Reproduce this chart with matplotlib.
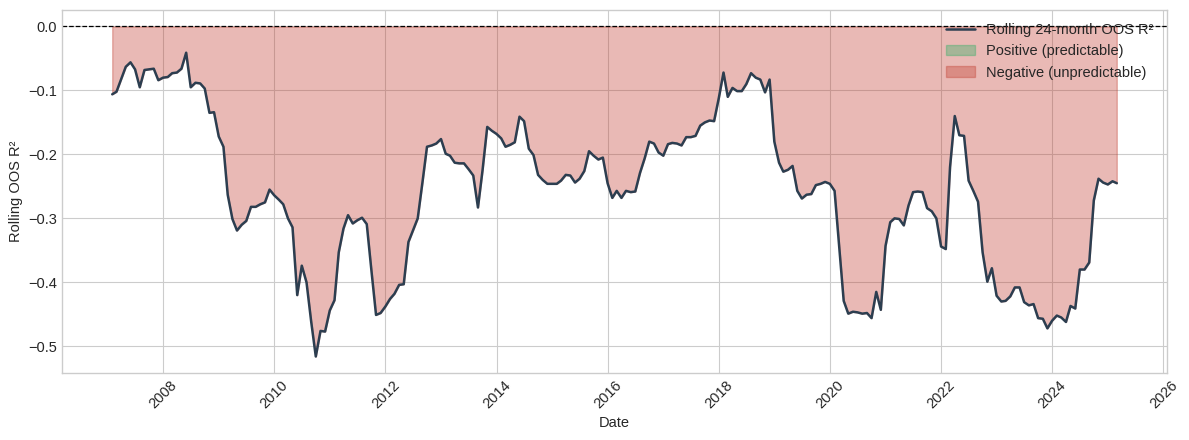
import matplotlib
matplotlib.use("Agg")
import matplotlib.pyplot as plt
import numpy as np
import pandas as pd

plt.style.use("seaborn-v0_8-whitegrid")
plt.rcParams["font.family"] = ["Liberation Sans", "DejaVu Sans"]

start_date = "2007-01-31"
rolling_r2 = [
    -0.106, -0.102, -0.082, -0.063, -0.056, -0.067, -0.095, -0.068, -0.067, -0.066,
    -0.084, -0.080, -0.079, -0.073, -0.072, -0.066, -0.041, -0.095, -0.088, -0.089,
    -0.097, -0.135, -0.134, -0.172, -0.188, -0.263, -0.301, -0.319, -0.310, -0.304,
    -0.282, -0.282, -0.278, -0.275, -0.255, -0.264, -0.271, -0.278, -0.300, -0.314,
    -0.420, -0.374, -0.400, -0.462, -0.516, -0.476, -0.477, -0.444, -0.428, -0.353,
    -0.316, -0.295, -0.308, -0.303, -0.299, -0.309, -0.380, -0.451, -0.448, -0.438,
    -0.426, -0.418, -0.404, -0.403, -0.337, -0.319, -0.300, -0.244, -0.188, -0.186,
    -0.183, -0.176, -0.199, -0.202, -0.213, -0.214, -0.214, -0.223, -0.233, -0.283,
    -0.225, -0.157, -0.163, -0.168, -0.175, -0.188, -0.185, -0.181, -0.141, -0.148,
    -0.191, -0.201, -0.232, -0.240, -0.246, -0.246, -0.246, -0.241, -0.232, -0.233,
    -0.244, -0.238, -0.226, -0.195, -0.202, -0.208, -0.205, -0.245, -0.268, -0.257,
    -0.268, -0.257, -0.259, -0.258, -0.229, -0.206, -0.180, -0.183, -0.197, -0.202,
    -0.184, -0.182, -0.183, -0.186, -0.173, -0.173, -0.171, -0.155, -0.150, -0.147,
    -0.148, -0.112, -0.072, -0.110, -0.096, -0.101, -0.101, -0.090, -0.073, -0.080,
    -0.083, -0.103, -0.083, -0.180, -0.213, -0.227, -0.224, -0.218, -0.257, -0.269,
    -0.263, -0.262, -0.248, -0.246, -0.243, -0.246, -0.257, -0.340, -0.429, -0.449,
    -0.446, -0.447, -0.449, -0.448, -0.456, -0.415, -0.443, -0.343, -0.306, -0.300,
    -0.301, -0.311, -0.280, -0.259, -0.258, -0.259, -0.284, -0.289, -0.300, -0.344,
    -0.348, -0.220, -0.140, -0.170, -0.171, -0.241, -0.257, -0.274, -0.353, -0.399,
    -0.378, -0.421, -0.430, -0.429, -0.422, -0.408, -0.408, -0.431, -0.436, -0.434,
    -0.456, -0.457, -0.472, -0.460, -0.452, -0.455, -0.462, -0.437, -0.441, -0.380,
    -0.380, -0.369, -0.272, -0.238, -0.244, -0.247, -0.242, -0.245,
]

dates = pd.date_range(start_date, periods=len(rolling_r2), freq="ME")
r2 = np.array(rolling_r2)

fig, ax = plt.subplots(figsize=(11.89, 4.4), dpi=100)
fig.subplots_adjust(left=62 / 1189, right=1167 / 1189, top=1 - 10 / 440, bottom=1 - 373 / 440)

ax.plot(dates, r2, color="#2c3e50", linewidth=1.8, label="Rolling 24-month OOS R\u00b2")
ax.axhline(0, color="black", linestyle="--", linewidth=0.9)
ax.fill_between(dates, 0, r2, where=(r2 >= 0), color="#27ae60", alpha=0.35,
                interpolate=True, label="Positive (predictable)")
ax.fill_between(dates, 0, r2, where=(r2 < 0), color="#c0392b", alpha=0.35,
                interpolate=True, label="Negative (unpredictable)")

ax.set_xlabel("Date", fontsize=10.5)
ax.set_ylabel("Rolling OOS R\u00b2", fontsize=10.5)
ax.tick_params(labelsize=10.5)
ax.legend(loc="upper right", fontsize=10.5)
for spine in ax.spines.values():
    spine.set_visible(True)
    spine.set_color("#cccccc")
plt.setp(ax.get_xticklabels(), rotation=45)

fig.savefig("out.png", dpi=100)
